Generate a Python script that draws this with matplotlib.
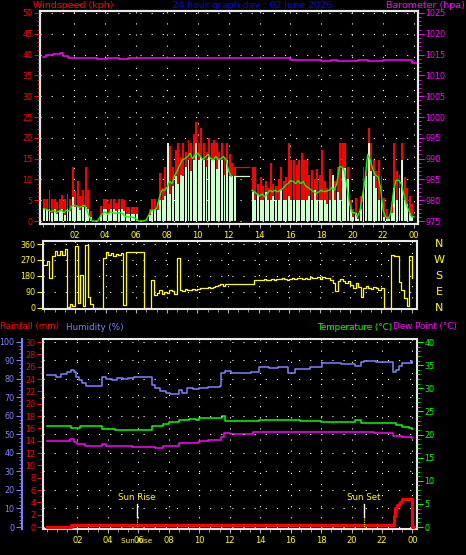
import matplotlib
matplotlib.use("Agg")
import matplotlib.pyplot as plt
import numpy as np
from matplotlib.ticker import MultipleLocator

W, H = 466, 555

RED = "#ff0000"
PALE = "#ccffcc"
GREEN = "#00ff00"
MAG = "#ff00ff"
YEL = "#ffff00"
TITLE_BLUE = "#0000ff"
HUM_BLUE = "#8080ff"
FRAME = "#e8e8e8"
DOTS = (0, (1, 9))

HOUR_TICKS = [2, 4, 6, 8, 10, 12, 14, 16, 18, 20, 22, 24]
HOUR_LABELS = ["02", "04", "06", "08", "10", "12", "14", "16", "18", "20", "22", "00"]

# wind, 10 minute samples 00:00 .. 24:00 (kph)
GUST = [
    5.4, 5.4, 7.5, 5.4, 5.4, 4.6,
    5.4, 6.2, 5.4, 6.6, 5.4, 12.9,
    7.2, 9.7, 6.0, 7.5, 12.9, 7.5,
    2.5, 0.3, 0.3, 0.3, 3.5, 5.4,
    5.4, 4.0, 5.4, 5.4, 4.4, 5.4,
    5.4, 5.0, 3.4, 3.4, 3.4, 3.4,
    3.4, 0.3, 0.3, 0.3, 0.3, 3.0,
    5.4, 5.4, 4.5, 11.5, 8.0, 13.0,
    11.0, 18.0, 13.0, 17.0, 18.7, 15.5,
    18.7, 16.5, 19.5, 18.7, 21.0, 23.9,
    18.7, 22.3, 18.7, 16.5, 20.0, 18.7,
    19.5, 18.7, 16.5, 18.7, 15.5, 18.7,
    16.0, 14.0, 12.9, 12.9, 12.9, 12.9,
    12.9, 12.9, 12.9, 12.9, 13.0, 9.0,
    10.5, 8.5, 9.5, 8.0, 14.0, 9.0,
    8.5, 10.0, 13.0, 9.5, 10.5, 18.7,
    14.7, 14.7, 13.5, 14.7, 16.3, 14.7,
    14.7, 11.0, 12.3, 10.0, 12.5, 11.0,
    17.0, 9.5, 8.0, 12.5, 7.5, 9.5,
    13.0, 18.7, 18.7, 18.7, 13.0, 5.0,
    3.0, 5.5, 1.0, 6.0, 13.0, 12.0,
    22.3, 18.7, 14.7, 12.0, 14.7, 10.7,
    5.5, 3.0, 1.0, 4.0, 18.7, 12.0,
    11.0, 18.7, 10.5, 8.0, 6.0, 4.0,
    2.0,
]
SPEED = [
    3.0, 3.0, 3.0, 2.0, 3.0, 1.8,
    2.6, 3.0, 1.5, 3.0, 2.5, 5.8,
    3.4, 3.4, 2.6, 3.4, 3.4, 3.0,
    1.0, 0.0, 0.0, 0.0, 1.5, 3.0,
    3.0, 2.0, 3.0, 3.0, 2.5, 3.0,
    3.0, 2.5, 1.8, 1.8, 1.8, 1.8,
    1.8, 0.0, 0.0, 0.0, 0.0, 1.5,
    2.6, 3.0, 2.6, 5.0, 5.0, 6.0,
    18.7, 6.5, 8.5, 10.7, 9.0, 11.0,
    10.7, 13.0, 14.7, 12.0, 14.7, 18.7,
    14.7, 15.5, 14.7, 13.0, 15.5, 14.7,
    14.7, 12.5, 14.7, 14.7, 11.0, 14.7,
    10.7, 10.7, 10.7, 10.7, 10.7, 10.7,
    10.7, 10.7, 10.7, 7.0, 5.0, 6.5,
    5.0, 5.0, 7.0, 5.0, 5.0, 6.0,
    5.0, 5.0, 7.5, 5.0, 5.0, 6.0,
    5.0, 5.0, 5.0, 5.0, 5.0, 5.0,
    5.0, 6.0, 5.0, 7.5, 5.0, 5.0,
    5.0, 5.0, 4.0, 5.0, 11.0, 5.0,
    7.0, 5.0, 12.7, 12.7, 10.0, 3.0,
    1.0, 2.0, 0.5, 3.0, 8.0, 10.7,
    18.7, 12.0, 10.7, 8.0, 5.0, 5.0,
    1.0, 0.5, 0.5, 2.0, 8.0, 5.0,
    8.0, 14.7, 5.0, 4.0, 2.0, 1.0,
    1.0,
]
nan = float("nan")
AVERAGE = [
    3.0, 2.8, 2.6, 2.2, 2.6, 2.0,
    2.4, 2.6, 2.0, 2.6, 2.4, 3.6,
    3.8, 3.6, 3.2, 3.6, 3.8, 2.4,
    0.8, 0.0, 0.0, 0.0, 1.0, 1.8,
    2.2, 1.6, 2.2, 2.0, 1.8, 2.0,
    2.0, 1.6, 1.0, 1.0, 1.0, 0.8,
    0.5, 0.0, 0.0, 0.0, 0.3, 1.5,
    2.6, 2.6, 3.0, 5.5, 7.4, 7.4,
    8.0, 9.5, 9.0, 11.0, 12.0, 13.5,
    14.7, 15.0, 15.5, 16.3, 15.0, 16.0,
    16.3, 15.5, 14.7, 15.5, 16.0, 15.0,
    14.7, 15.5, 14.7, 15.0, 15.5, 14.7,
    12.0, 10.7, nan, nan, nan, nan,
    nan, nan, nan, 7.4, 7.0, 6.5,
    6.0, 6.5, 5.8, 6.6, 7.4, 7.0,
    7.4, 7.0, 7.4, 7.8, 8.5, 9.0,
    9.7, 9.5, 9.0, 9.7, 9.0, 9.5,
    8.3, 8.0, 7.5, 7.0, 6.6, 7.0,
    7.4, 7.0, 7.2, 7.4, 8.0, 7.4,
    9.0, 13.0, 13.0, 12.0, 8.0, 4.0,
    2.0, 2.0, 1.0, 2.5, 6.0, 10.0,
    16.0, 14.7, 12.5, 11.0, 10.7, 8.0,
    2.6, 1.0, 0.5, 2.0, 7.0, 9.8,
    9.8, 9.0, 6.6, 4.0, 2.5, 1.0,
    1.0,
]
LOGGER_GAP = (12.34, 13.49)   # no samples logged, only a joining line

# wind direction, 10 minute samples (degrees)
DIRECTION = [
    240, 265, 167, 290, 320, 300,
    320, 300, 330, 7, 20, 10,
    350, 30, 186, 10, 354, 60,
    20, 0, 0, 0, 0, 280,
    315, 300, 310, 295, 305, 300,
    310, 17, 317, 317, 317, 317,
    317, 317, 317, 0, 0, 0,
    157, 75, 85, 100, 80, 90,
    85, 100, 95, 80, 283, 100,
    95, 105, 100, 100, 105, 100,
    105, 110, 115, 110, 120, 115,
    120, 125, 130, 135, 125, 133,
    133, 133, 133, 133, 133, 133,
    133, 133, 133, 133, 160, 155,
    160, 155, 165, 160, 158, 165,
    160, 165, 162, 168, 165, 160,
    165, 168, 165, 170, 168, 165,
    170, 165, 172, 168, 170, 175,
    165, 175, 170, 168, 160, 140,
    95, 150, 165, 150, 140, 150,
    130, 115, 140, 120, 64, 110,
    125, 115, 105, 120, 110, 100,
    110, 0, 0, 0, 300, 290,
    290, 148, 100, 54, 10, 290,
    170,
]

BARO_T = [0, 0.2, 0.6, 1.1, 1.3, 1.6, 2.0, 3.5, 4.1, 4.9, 5.5, 7.5, 9.0, 11.0, 13.0,
          15.0, 16.0, 17.0, 18.0, 18.6, 19.0, 19.8, 20.4, 21.0, 22.0, 22.6, 23.2, 23.9, 24.2]
BARO = [1014.5, 1014.9, 1015.1, 1015.4, 1014.6, 1014.3, 1014.1, 1013.9, 1014.1, 1013.9,
        1014.1, 1014.3, 1014.2, 1014.3, 1014.3, 1014.1, 1013.8, 1013.6, 1013.4, 1013.8,
        1013.5, 1013.4, 1013.6, 1013.5, 1013.6, 1013.7, 1013.6, 1013.1, 1013.1]

HUM_T = [0, 0.6, 0.9, 1.3, 1.55, 1.75, 1.9, 2.1, 2.3, 2.55, 3.6, 3.9, 4.3, 4.6, 5.0, 5.3,
         5.7, 6.9, 7.1, 7.4, 7.8, 8.1, 8.7, 8.9, 9.2, 9.6, 10.0, 10.6, 11.35, 11.45, 11.7,
         12.1, 13.4, 13.9, 14.6, 15.2, 15.85, 16.3, 17.3, 18.05, 19.3, 20.2, 20.6, 20.8,
         21.6, 22.7, 22.75, 22.95, 23.1, 23.3, 23.9, 24.0]
HUMIDITY = [82.2, 81.3, 82.8, 83.5, 84.9, 83.5, 81.0, 79.5, 77.8, 76.2, 80.9, 80.2, 79.6,
            80.4, 80.2, 80.6, 80.9, 76.5, 75.0, 73.5, 72.5, 71.7, 74.0, 72.5, 75.0, 74.5,
            75.2, 75.8, 76.0, 83.1, 84.4, 83.1, 83.7, 86.3, 85.8, 86.5, 83.4, 85.5, 86.2,
            88.5, 88.0, 86.9, 89.3, 89.7, 89.0, 88.8, 83.6, 85.0, 87.0, 88.8, 89.9, 88.8]

TEMP_T = [0, 1.6, 2.2, 3.6, 4.5, 5.9, 6.9, 7.6, 8.0, 8.7, 9.3, 9.8, 10.0, 11.0, 11.5, 11.7,
          13.9, 16.6, 18.0, 20.2, 20.6, 22.3, 22.9, 23.3, 23.8, 24.0]
TEMPERATURE = [21.8, 21.4, 21.8, 21.1, 21.0, 20.9, 21.8, 22.3, 22.7, 23.1, 23.3, 23.1, 23.5,
               23.6, 23.9, 23.0, 23.1, 23.0, 22.7, 23.1, 22.4, 22.4, 22.0, 21.7, 21.3, 21.2]

DEW_T = [0, 1.3, 1.5, 1.8, 2.0, 2.5, 3.6, 3.9, 5.6, 7.1, 7.6, 8.7, 10.0, 10.6, 11.4, 11.6,
         12.0, 13.5, 16.0, 18.0, 20.0, 21.5, 22.7, 23.3, 24.0]
DEW_POINT = [18.5, 18.6, 19.0, 18.4, 18.0, 17.5, 17.9, 17.5, 17.2, 17.0, 17.5, 18.1, 18.7,
             18.9, 19.5, 20.3, 20.1, 20.6, 20.5, 20.6, 20.5, 20.4, 19.7, 19.5, 19.3]

RAIN_T = [0, 1.55, 22.78, 22.85, 23.0, 23.1, 23.2, 23.3, 23.97, 24.05]
RAIN = [0.0, 0.3, 1.8, 3.1, 3.5, 3.8, 4.1, 4.5, 0.0, 0.0]

SUNRISE = 5.9
SUNSET = 20.8

fig = plt.figure(figsize=(W / 100, H / 100), dpi=100, facecolor="black")


def px_axes(x0, y0, x1, y1):
    return fig.add_axes([x0 / W, 1 - y1 / H, (x1 - x0) / W, (y1 - y0) / H])


def style_frame(ax):
    ax.set_facecolor("black")
    for s in ax.spines.values():
        s.set_color(FRAME)
        s.set_linewidth(1.5)


def hour_axis(ax, xlim, labels=True):
    ax.set_xlim(*xlim)
    ax.set_xticks(HOUR_TICKS)
    ax.set_xticklabels(HOUR_LABELS if labels else [])
    ax.xaxis.set_minor_locator(MultipleLocator(2 / 3))
    ax.tick_params(axis="x", which="both", color="#b0b0b0", labelcolor=YEL,
                   labelsize=6, direction="out", pad=2)
    ax.tick_params(axis="x", which="major", length=3)
    ax.tick_params(axis="x", which="minor", length=2)
    ax.grid(True, axis="x", color="white", linestyle=DOTS, linewidth=0.8)


def y_ticks(ax, major, minor, colour):
    ax.yaxis.set_major_locator(MultipleLocator(major))
    ax.yaxis.set_minor_locator(MultipleLocator(minor))
    ax.tick_params(axis="y", which="both", colors=colour, labelsize=5.8,
                   direction="out", pad=1.5)
    ax.tick_params(axis="y", which="major", length=4)
    ax.tick_params(axis="y", which="minor", length=2)


# ---------------- wind speed + barometer ----------------
t10 = np.arange(len(GUST)) / 6.0
logged = (t10 <= LOGGER_GAP[0]) | (t10 >= LOGGER_GAP[1])
gust = np.array(GUST)
speed = np.array(SPEED)
gap = ~logged
gap[np.argmax(gap) - 1] = True

ax_w = px_axes(40, 11, 418, 224)
style_frame(ax_w)
ax_w.set_axisbelow(True)
ax_w.set_ylim(-0.72, 50.48)
hour_axis(ax_w, (-0.22, 24.26))
y_ticks(ax_w, 5, 1, RED)
ax_w.grid(True, axis="y", color="white", linestyle=DOTS, linewidth=0.8)

# per-sample bars leave thin black slits like the logger plot
ax_w.bar(t10[logged][:-1], gust[logged][:-1], width=0.125, align="edge",
         color=RED, linewidth=0)
ax_w.plot(t10[gap], gust[gap], drawstyle="steps-post", color=RED, linewidth=0.9)
ax_w.bar(t10[logged][:-1], speed[logged][:-1], width=0.125, align="edge",
         color=PALE, linewidth=0)
ax_w.plot(t10[gap], speed[gap], drawstyle="steps-post", color=PALE, linewidth=0.9)
ax_w.plot(t10, AVERAGE, color=GREEN, linewidth=1.0)

ax_b = ax_w.twinx()
ax_b.set_ylim(974.28, 1025.48)
y_ticks(ax_b, 5, 1, MAG)
for s in ax_b.spines.values():
    s.set_color(FRAME)
    s.set_linewidth(1.5)
ax_b.plot(BARO_T, BARO, drawstyle="steps-post", color=MAG, linewidth=1.1)

fig.text(33 / W, 1 - 6 / H, "Windspeed (kph)", color=RED, fontsize=6.8, va="center")
fig.text(252 / W, 1 - 6 / H, "24 hour graph day : 02 June 2026", color=TITLE_BLUE,
         fontsize=6.8, va="center", ha="center")
fig.text(465 / W, 1 - 5.5 / H, "Barometer (hpa)", color=MAG, fontsize=6.8, va="center",
         ha="right")

# ---------------- wind direction ----------------
ax_d = px_axes(43, 241, 417, 309)
style_frame(ax_d)
ax_d.set_axisbelow(True)
ax_d.set_ylim(-6, 377)
hour_axis(ax_d, (-0.09, 24.35), labels=False)
ax_d.set_yticks([0, 90, 180, 270, 360])
ax_d.tick_params(axis="y", colors=YEL, labelsize=5.8, length=4, direction="out", pad=1.5)
ax_d.grid(True, axis="y", color="white", linestyle=DOTS, linewidth=0.8)
ax_d.plot(t10, DIRECTION, drawstyle="steps-post", color=YEL, linewidth=0.9)

for deg, letter in zip([360, 270, 180, 90, 0], ["N", "W", "S", "E", "N"]):
    ypx = 308 - deg * 64 / 360
    fig.text(439 / W, 1 - ypx / H, letter, color=YEL, fontsize=8, ha="center", va="center")

# ---------------- rain / humidity / temperature ----------------
ax_r = px_axes(43, 339, 417, 529)
style_frame(ax_r)
ax_r.set_axisbelow(True)
ax_r.set_ylim(-0.32, 30.49)
hour_axis(ax_r, (-0.26, 24.3))
y_ticks(ax_r, 2, 1, RED)

ax_tc = ax_r.twinx()
ax_tc.set_ylim(-0.43, 40.65)
y_ticks(ax_tc, 5, 1, GREEN)
for s in ax_tc.spines.values():
    s.set_visible(False)

ax_h = ax_r.twinx()
ax_h.set_ylim(-1.08, 101.6)
ax_h.yaxis.set_ticks_position("left")
ax_h.spines["left"].set_position(("outward", 15))
ax_h.spines["left"].set_color(HUM_BLUE)
ax_h.spines["left"].set_linewidth(1.5)
for s in ["right", "top", "bottom"]:
    ax_h.spines[s].set_visible(False)
y_ticks(ax_h, 10, 2, HUM_BLUE)
ax_h.grid(True, axis="y", color="white", linestyle=DOTS, linewidth=0.8)

ax_h.plot(HUM_T, HUMIDITY, drawstyle="steps-post", color=HUM_BLUE, linewidth=1.1)
ax_tc.plot(TEMP_T, TEMPERATURE, drawstyle="steps-post", color=GREEN, linewidth=1.1)
ax_tc.plot(DEW_T, DEW_POINT, drawstyle="steps-post", color=MAG, linewidth=1.1)
ax_h.plot(RAIN_T, np.array(RAIN) * 100 / 30, drawstyle="steps-post", color=RED, linewidth=2.2)

tr = ax_h.get_xaxis_transform()
for t, name in [(SUNRISE, "Sun Rise"), (SUNSET, "Sun Set")]:
    ax_h.plot([t, t], [0.063, 0.132], transform=tr, color="white", linewidth=1)
    ax_h.plot([t, t], [0.0, 0.063], transform=tr, color=YEL, linewidth=0.8, linestyle=(0, (1, 1)))
    ax_h.text(t, 0.165, name, transform=tr, color=YEL, fontsize=6.2, ha="center", va="center")
# the logger prints the sunrise marker over the hour labels as well
ax_h.text(SUNRISE, -0.063, "Sun Rise", transform=tr, color=YEL, fontsize=5.2,
          ha="center", va="center", clip_on=False)

fig.text(0, 1 - 327 / H, "Rainfall (mm)", color=RED, fontsize=6.3, va="center")
fig.text(66 / W, 1 - 327 / H, "Humidity (%)", color=HUM_BLUE, fontsize=6.3, va="center")
fig.text(392 / W, 1 - 327 / H, "Temperature (°C)", color=GREEN, fontsize=6.3, va="center",
         ha="right")
fig.text(393 / W, 1 - 327 / H, "Dew Point (°C)", color=MAG, fontsize=6.3, va="center")

fig.savefig("out.png", dpi=100, facecolor="black")
